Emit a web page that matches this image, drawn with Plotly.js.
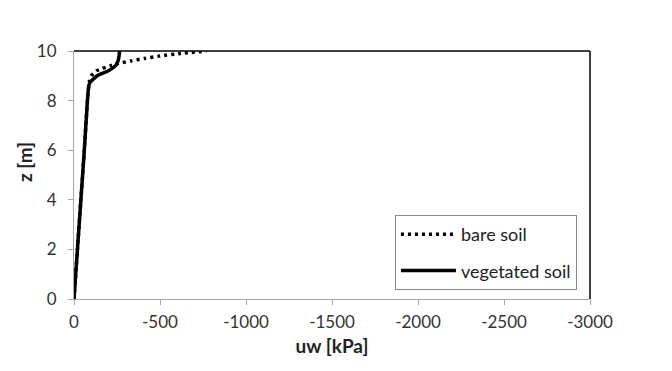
<!DOCTYPE html>
<html>
<head>
<meta charset="utf-8">
<script src="https://cdn.plot.ly/plotly-3.0.1.min.js"></script>
<style>html,body{margin:0;padding:0;background:#fff;}#chart{width:672px;height:371px;}</style>
</head>
<body>
<div id="chart"></div>
<script>
var vegZ  = [0, 2, 4, 6, 8, 8.6, 8.75, 9.0, 9.2, 9.4, 9.6, 9.8, 10];
var vegUw = [0, -20, -40, -60, -78, -86, -95, -135, -200, -240, -256, -262, -265];
var bareZ  = [0, 2, 4, 6, 8, 8.6, 8.8, 9.0, 9.2, 9.4, 9.5, 9.6, 9.7, 9.8, 9.9, 10];
var bareUw = [0, -20, -40, -60, -78, -86, -90, -100, -130, -210, -260, -330, -410, -500, -620, -770];
var xTicks = [0, -500, -1000, -1500, -2000, -2500, -3000];
var yTicks = [0, 2, 4, 6, 8, 10];

var fontFam = 'Lato, "Open Sans", sans-serif';
var traces = [
  {x: vegUw, y: vegZ, name: 'vegetated soil', mode: 'lines', legendrank: 2, legendgroup: 'b',
   line: {color: '#000', width: 3.5, shape: 'spline', smoothing: 0.4}},
  {x: bareUw, y: bareZ, name: 'bare soil', mode: 'lines', legendrank: 1, legendgroup: 'a',
   line: {color: '#000', width: 3.5, dash: '3px,4px', shape: 'spline', smoothing: 0.4}}
];
var layout = {
  width: 672, height: 371,
  margin: {l: 74, r: 82, t: 51, b: 72},
  paper_bgcolor: '#fff', plot_bgcolor: '#fff',
  font: {family: fontFam, size: 16, color: '#333'},
  showlegend: true,
  legend: {x: 0.622, y: 0.339, xanchor: 'left', yanchor: 'top',
           bordercolor: '#888', borderwidth: 1, bgcolor: '#fff', itemwidth: 55,
           tracegroupgap: 10, font: {family: fontFam, size: 18, color: '#222'}},
  xaxis: {range: [0, -3000], tickvals: xTicks, ticktext: xTicks.map(String),
          showgrid: false, zeroline: false, showline: true, linecolor: '#a6a6a6', linewidth: 1,
          ticks: 'outside', ticklen: 5, tickcolor: '#a6a6a6', ticklabelstandoff: 3,
          tickfont: {family: fontFam, size: 17, color: '#333'},
          title: {text: '<b>uw [kPa]</b>', font: {family: fontFam, size: 19, color: '#222'}, standoff: 8}},
  yaxis: {range: [0, 10], tickvals: yTicks, ticktext: yTicks.map(String),
          showgrid: false, zeroline: false, showline: true, linecolor: '#a6a6a6', linewidth: 1,
          ticks: 'outside', ticklen: 5, tickcolor: '#a6a6a6', ticklabelstandoff: 8,
          tickfont: {family: fontFam, size: 17, color: '#333'}},
  annotations: [
    {text: '<b>z [m]</b>', xref: 'paper', yref: 'paper', x: 0, y: 0.552, xshift: -50,
     xanchor: 'center', yanchor: 'middle', textangle: -90, showarrow: false,
     font: {family: fontFam, size: 19, color: '#222'}}
  ],
  shapes: [
    {type: 'line', xref: 'paper', yref: 'paper', x0: 0, x1: 1, y0: 1, y1: 1, line: {color: '#000', width: 1.5}},
    {type: 'line', xref: 'paper', yref: 'paper', x0: 1, x1: 1, y0: 0, y1: 1, line: {color: '#000', width: 1.5}}
  ]
};
Plotly.newPlot('chart', traces, layout, {displayModeBar: false, staticPlot: true});
</script>
</body>
</html>
